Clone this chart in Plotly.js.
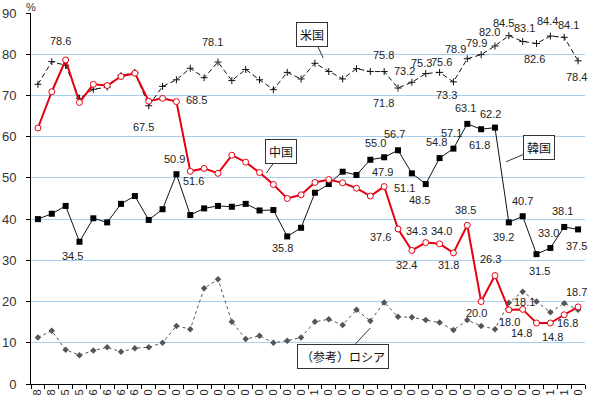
<!DOCTYPE html>
<html><head><meta charset="utf-8">
<script src="https://cdn.plot.ly/plotly-3.0.1.min.js"></script>
<style>html,body{margin:0;padding:0;background:#fff}#chart{width:591px;height:400px}</style>
</head><body><div id="chart"></div>
<script>
// ---- data ----
const years = [1978,1979,1980,1981,1982,1983,1984,1985,1986,1987,1988,1989,1990,1991,1992,1993,1994,1995,1996,1997,1998,1999,2000,2001,2002,2003,2004,2005,2006,2007,2008,2009,2010,2011,2012,2013,2014,2015,2016,2017];
const tickChars = ["8","8","5","5","6","6","6","6","0","0","0","0","0","0","0","0","0","0","0","0","1","0","0","0","0","0","0","0","0","0","0","0","0","0","0","0","0","1","1","0"];
const usa = [72.7,78.2,77.3,69.3,71.5,72.0,74.8,75.6,67.5,72.2,73.8,76.6,74.3,78.1,73.6,76.3,73.8,71.4,75.6,74.0,77.8,75.8,74.0,76.5,75.8,75.8,71.8,73.2,75.3,75.6,73.3,78.9,79.9,82.0,84.5,83.1,82.6,84.4,84.1,78.4];
const china = [62.1,70.9,78.6,68.3,72.7,72.4,74.6,75.4,68.6,69.3,68.5,51.6,52.3,51.1,55.5,53.8,51.3,48.4,45.0,45.9,48.9,49.6,48.8,47.5,45.6,47.9,37.6,32.4,34.3,34.0,31.8,38.5,20.0,26.3,18.0,18.1,14.8,14.8,16.8,18.7];
const korea = [40.0,41.3,43.2,34.5,40.2,39.2,43.7,45.6,39.8,42.4,50.9,41.0,42.6,43.2,43.0,43.7,42.1,42.2,35.8,37.9,46.4,48.5,51.5,50.7,54.4,55.0,56.7,51.1,48.5,54.8,57.1,63.1,61.8,62.2,39.2,40.7,31.5,33.0,38.1,37.5];
const russia = [11.3,12.9,8.3,7.0,8.1,8.9,7.8,8.7,8.9,10.0,14.1,13.3,23.2,25.4,15.1,10.9,11.7,10.0,10.5,11.3,15.1,15.7,14.3,18.0,15.3,19.8,16.3,16.2,15.5,14.9,13.1,15.5,14.1,13.3,19.7,22.4,20.0,17.4,19.6,18.0];
const seriesNames = ["米国","中国","韓国","（参考）ロシア"];

// ---- label placement (index, x-offset px, y-offset px) ----
const usaLabelSpots = [[8,-5,-21],[13,-5,20],[25,-1,17],[26,-15,-15],[27,-7,11],[28,-4,11],[29,2,10],[30,-7,-13],[31,-12,10],[32,-5,12],[33,-5,14],[34,-5,13],[35,2,13],[36,-2,-15],[37,-3,15],[38,4,12],[39,-2,-16]];
const chinaLabelSpots = [[2,-5,19],[10,20,2],[11,3,-10],[25,-2,15],[26,-18,-8],[27,-5,-15],[28,-9,12],[29,2,13],[30,-5,-12],[31,-2,15],[32,-5,-11],[33,-4,17],[34,1,-12],[35,2,7],[36,-15,-10],[37,2,-14],[38,3,-8],[39,-2,15]];
const koreaLabelSpots = [[3,-7,-14],[10,-2,15],[18,-5,-12],[25,-9,14],[26,-4,16],[27,-7,-15],[28,-6,-16],[29,-3,16],[30,-2,16],[31,-2,16],[32,-2,-16],[33,-4,14],[34,-5,-15],[35,0,15],[36,3,-17],[37,-2,15],[38,-2,16],[39,-2,-17]];

const idx = years.map((y,i)=>i);
const boundaries = [-0.5].concat(idx.map(i=>i+0.5));

const traces = [
  {x: idx, y: russia, name: seriesNames[3], mode:'lines+markers',
   line:{color:'#555', width:1, dash:'3px,3px'}, marker:{symbol:'diamond', size:5, color:'#555'}},
  {x: idx, y: usa, name: seriesNames[0], mode:'lines+markers',
   line:{color:'#111', width:1, dash:'5px,3px'}, marker:{symbol:'cross-thin-open', size:5, line:{color:'#111', width:1}}},
  {x: idx, y: korea, name: seriesNames[2], mode:'lines+markers',
   line:{color:'#111', width:1}, marker:{symbol:'square', size:6, color:'#000'}},
  {x: idx, y: china, name: seriesNames[1], mode:'lines+markers',
   line:{color:'#e60012', width:2}, marker:{symbol:'circle', size:6, color:'#fff', line:{color:'#e60012', width:1}}}
];

const annotations = [];
const labFont = {family:'Liberation Sans, Arial, sans-serif', size:11, color:'#222'};
function addLabels(series, spots){
  spots.forEach(([i,dx,dy])=>{
    annotations.push({x:i, y:series[i], xref:'x', yref:'y', text:series[i].toFixed(1), showarrow:false,
      xshift:dx, yshift:dy, font:labFont});
  });
}
addLabels(usa, usaLabelSpots);
addLabels(china, chinaLabelSpots);
addLabels(korea, koreaLabelSpots);

const calloutFont = {family:'Noto Sans CJK JP, sans-serif', size:12, color:'#111'};
function callout(text, x, y, ax, ay){
  annotations.push({x:x, y:y, xref:'x', yref:'y', text:text, showarrow:true, arrowhead:0, arrowwidth:1,
    arrowcolor:'#333', ax:ax, ay:ay, bgcolor:'#fff', bordercolor:'#333', borderwidth:1, borderpad:3, font:calloutFont});
}
callout(seriesNames[0], 20.6, 79.1, -11, -23);
callout(seriesNames[1], 16.5, 51.2, 15, -21);
callout(seriesNames[2], 33.8, 53.9, 33, -14);
callout(seriesNames[3], 24.0, 13.6, -27, 29);

annotations.push({xref:'paper', yref:'paper', x:0, y:1, xanchor:'center', yanchor:'middle', yshift:6,
  text:'%', showarrow:false, font:{family:'Liberation Sans, Arial, sans-serif', size:11, color:'#333'}});

const layout = {
  width:591, height:400,
  margin:{l:31, r:6, t:13, b:16},
  paper_bgcolor:'#fff', plot_bgcolor:'#fff',
  showlegend:false,
  xaxis:{range:[-0.5,39.5], tickmode:'array', tickvals:idx, ticktext:tickChars, tickangle:-90,
    ticks:'', showgrid:false, zeroline:false, showline:true, linecolor:'#000', linewidth:1,
    tickfont:{family:'Liberation Sans, Arial, sans-serif', size:11, color:'#222'},
    minor:{tickmode:'array', tickvals:boundaries, ticks:'outside', ticklen:4, tickcolor:'#000', showgrid:false}},
  yaxis:{range:[0,90], dtick:10, tick0:0, showgrid:true, gridcolor:'#a9cfee', gridwidth:1,
    zeroline:false, showline:true, linecolor:'#000', linewidth:1, ticks:'outside', ticklen:4, tickcolor:'#000',
    ticklabelstandoff:7,
    tickfont:{family:'Liberation Sans, Arial, sans-serif', size:13, color:'#333'}},
  annotations:annotations
};
Plotly.newPlot('chart', traces, layout, {staticPlot:true, displayModeBar:false});
</script>
</body></html>
